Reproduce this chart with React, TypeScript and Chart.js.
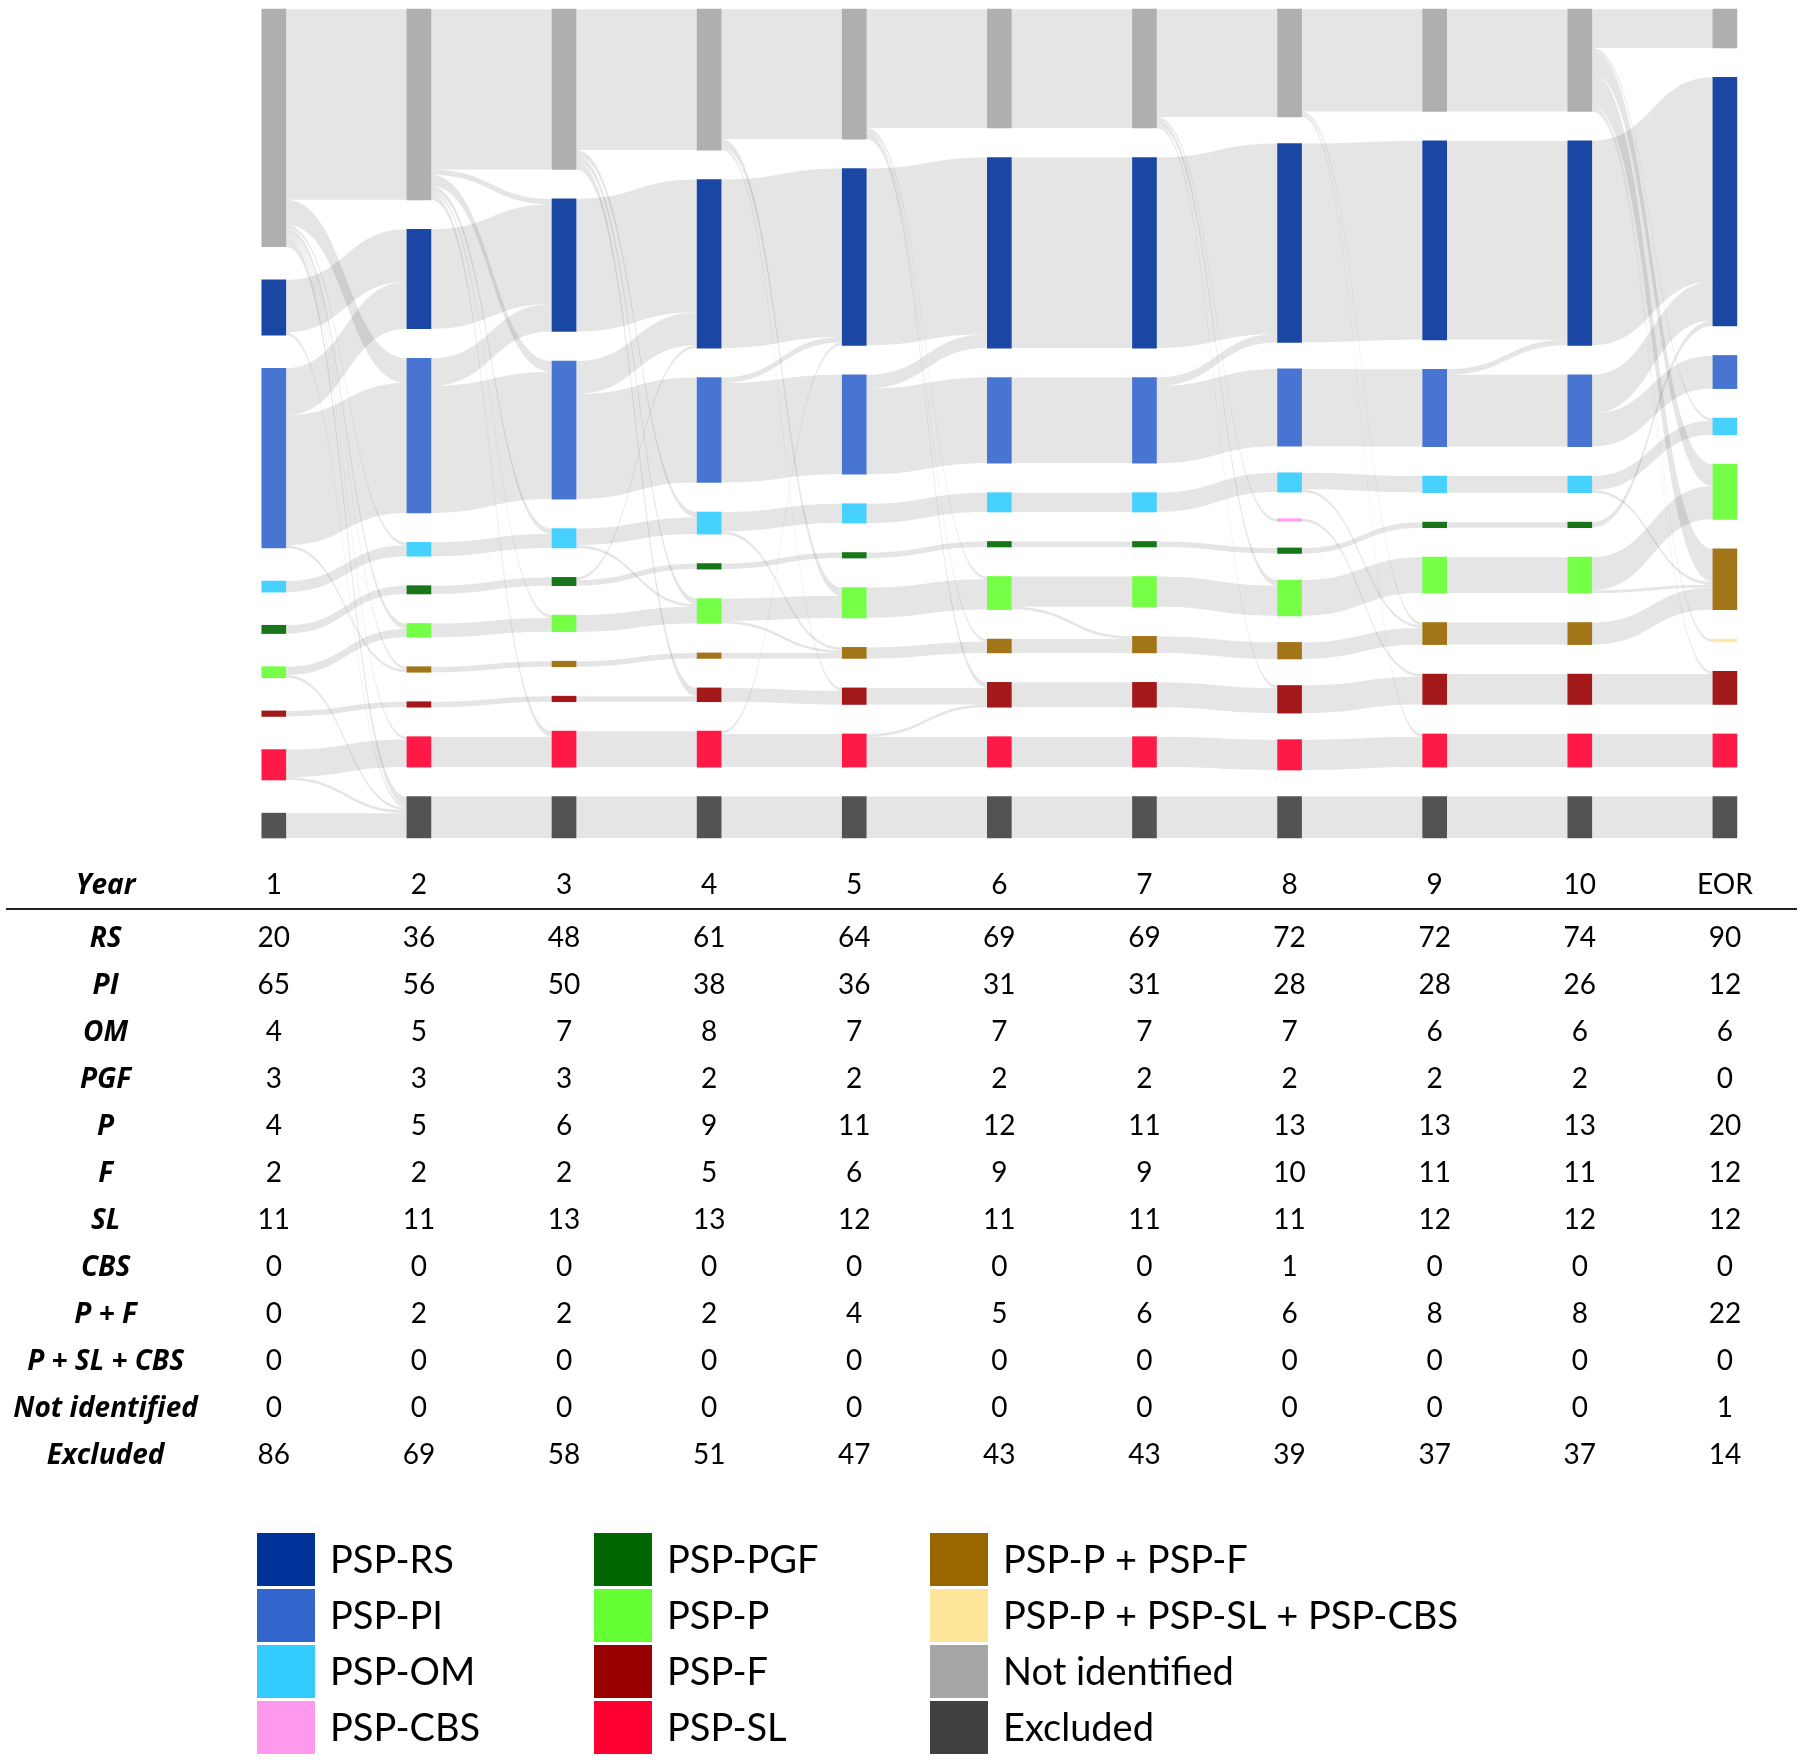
import React, { useEffect, useRef } from "react";
import { Chart, registerables } from "chart.js";

Chart.register(...registerables);

// ---------- DATA ----------
const yearLabels = ["1", "2", "3", "4", "5", "6", "7", "8", "9", "10", "EOR"];

const rowRS = [20, 36, 48, 61, 64, 69, 69, 72, 72, 74, 90];
const rowPI = [65, 56, 50, 38, 36, 31, 31, 28, 28, 26, 12];
const rowOM = [4, 5, 7, 8, 7, 7, 7, 7, 6, 6, 6];
const rowPGF = [3, 3, 3, 2, 2, 2, 2, 2, 2, 2, 0];
const rowP = [4, 5, 6, 9, 11, 12, 11, 13, 13, 13, 20];
const rowF = [2, 2, 2, 5, 6, 9, 9, 10, 11, 11, 12];
const rowSL = [11, 11, 13, 13, 12, 11, 11, 11, 12, 12, 12];
const rowCBS = [0, 0, 0, 0, 0, 0, 0, 1, 0, 0, 0];
const rowPF = [0, 2, 2, 2, 4, 5, 6, 6, 8, 8, 22];
const rowPSLCBS = [0, 0, 0, 0, 0, 0, 0, 0, 0, 0, 0];
const rowNotIdentified = [0, 0, 0, 0, 0, 0, 0, 0, 0, 0, 1];
const rowExcluded = [86, 69, 58, 51, 47, 43, 43, 39, 37, 37, 14];

const tableRowLabels = ["RS", "PI", "OM", "PGF", "P", "F", "SL", "CBS", "P + F", "P + SL + CBS", "Not identified", "Excluded"];
const tableRowValues = [rowRS, rowPI, rowOM, rowPGF, rowP, rowF, rowSL, rowCBS, rowPF, rowPSLCBS, rowNotIdentified, rowExcluded];

// Sankey node states, top to bottom
const stateKeys = ["G", "RS", "PI", "OM", "CBS", "PGF", "P", "PF", "PSC", "F", "SL", "D"];

type Flow = [string, string, number];

const flows1to2: Flow[] = [
  ["G", "G", 69], ["G", "PI", 9], ["G", "OM", 1], ["G", "P", 2], ["G", "PF", 1], ["G", "SL", 1], ["G", "D", 3],
  ["RS", "RS", 19], ["RS", "D", 1],
  ["PI", "RS", 17], ["PI", "PI", 47], ["PI", "PF", 1],
  ["OM", "OM", 4], ["PGF", "PGF", 3], ["P", "P", 3], ["P", "D", 1],
  ["F", "F", 2], ["SL", "SL", 10], ["SL", "D", 1], ["D", "D", 9],
];
const flows2to3: Flow[] = [
  ["G", "G", 58], ["G", "RS", 2], ["G", "PI", 4], ["G", "OM", 2], ["G", "P", 1], ["G", "SL", 2],
  ["RS", "RS", 36], ["PI", "RS", 10], ["PI", "PI", 46],
  ["OM", "OM", 5], ["PGF", "PGF", 3], ["P", "P", 5], ["PF", "PF", 2], ["F", "F", 2], ["SL", "SL", 11], ["D", "D", 15],
];
const flows3to4: Flow[] = [
  ["G", "G", 51], ["G", "OM", 2], ["G", "P", 2], ["G", "F", 3],
  ["RS", "RS", 48], ["PI", "RS", 12], ["PI", "PI", 38],
  ["OM", "OM", 6], ["OM", "P", 1], ["PGF", "RS", 1], ["PGF", "PGF", 2],
  ["P", "P", 6], ["PF", "PF", 2], ["F", "F", 2], ["SL", "SL", 13], ["D", "D", 15],
];
const flows4to5: Flow[] = [
  ["G", "G", 47], ["G", "P", 3], ["G", "F", 1],
  ["RS", "RS", 61], ["PI", "RS", 2], ["PI", "PI", 36],
  ["OM", "OM", 7], ["OM", "PF", 1], ["PGF", "PGF", 2],
  ["P", "P", 8], ["P", "PF", 1], ["PF", "PF", 2], ["F", "F", 5],
  ["SL", "SL", 12], ["SL", "RS", 1], ["D", "D", 15],
];
const flows5to6: Flow[] = [
  ["G", "G", 43], ["G", "P", 1], ["G", "PF", 1], ["G", "F", 2],
  ["RS", "RS", 64], ["PI", "RS", 5], ["PI", "PI", 31],
  ["OM", "OM", 7], ["PGF", "PGF", 2], ["P", "P", 11], ["PF", "PF", 4], ["F", "F", 6],
  ["SL", "SL", 11], ["SL", "F", 1], ["D", "D", 15],
];
const flows6to7: Flow[] = [
  ["G", "G", 43], ["RS", "RS", 69], ["PI", "PI", 31], ["OM", "OM", 7], ["PGF", "PGF", 2],
  ["P", "P", 11], ["P", "PF", 1], ["PF", "PF", 5], ["F", "F", 9], ["SL", "SL", 11], ["D", "D", 15],
];
const flows7to8: Flow[] = [
  ["G", "G", 39], ["G", "CBS", 1], ["G", "P", 2], ["G", "F", 1],
  ["RS", "RS", 69], ["PI", "RS", 3], ["PI", "PI", 28], ["OM", "OM", 7], ["PGF", "PGF", 2],
  ["P", "P", 11], ["PF", "PF", 6], ["F", "F", 9], ["SL", "SL", 11], ["D", "D", 15],
];
const flows8to9: Flow[] = [
  ["G", "G", 37], ["G", "PF", 1], ["G", "SL", 1],
  ["RS", "RS", 72], ["PI", "PI", 28], ["OM", "OM", 6], ["OM", "PF", 1], ["CBS", "F", 1],
  ["PGF", "PGF", 2], ["P", "P", 13], ["PF", "PF", 6], ["F", "F", 10], ["SL", "SL", 11], ["D", "D", 15],
];
const flows9to10: Flow[] = [
  ["G", "G", 37], ["RS", "RS", 72], ["PI", "RS", 2], ["PI", "PI", 26], ["OM", "OM", 6], ["PGF", "PGF", 2],
  ["P", "P", 13], ["PF", "PF", 8], ["F", "F", 11], ["SL", "SL", 12], ["D", "D", 15],
];
const flows10toEOR: Flow[] = [
  ["G", "G", 14], ["G", "OM", 1], ["G", "P", 8], ["G", "PF", 12], ["G", "PSC", 1], ["G", "F", 1],
  ["RS", "RS", 74], ["PI", "RS", 14], ["PI", "PI", 12],
  ["OM", "OM", 5], ["OM", "PF", 1], ["PGF", "RS", 2],
  ["P", "P", 12], ["P", "PF", 1], ["PF", "PF", 8], ["F", "F", 11], ["SL", "SL", 12], ["D", "D", 15],
];
const transitions = [flows1to2, flows2to3, flows3to4, flows4to5, flows5to6, flows6to7, flows7to8, flows8to9, flows9to10, flows10toEOR];

const legendLabels = [
  "PSP-RS", "PSP-PI", "PSP-OM", "PSP-CBS",
  "PSP-PGF", "PSP-P", "PSP-F", "PSP-SL",
  "PSP-P + PSP-F", "PSP-P + PSP-SL + PSP-CBS", "Not identified", "Excluded",
];
const legendKeys = ["RS", "PI", "OM", "CBS", "PGF", "P", "F", "SL", "PF", "PSC", "G", "D"];

// ---------- STYLE ----------
const stateColors: Record<string, string> = {
  G: "#a6a6a6", RS: "#003399", PI: "#3366cc", OM: "#33ccff", CBS: "#ff99ee", PGF: "#006600",
  P: "#66ff33", PF: "#996600", PSC: "#ffe599", F: "#990000", SL: "#ff0033", D: "#404040",
};
const FONT = "Lato, 'Open Sans', 'DejaVu Sans', sans-serif";
const LABEL_FONT = "'Open Sans', Lato, sans-serif";
const Y_TOTAL = 300; // layout units of the column height (nodes + gaps)
const BAR_W = 24;
const W = 1800;
const H = 1762;

// ---------- LAYOUT ----------
type NodeBox = { y0: number; y1: number };
function computeNodes() {
  const n = yearLabels.length;
  const cols: Record<string, NodeBox>[] = [];
  for (let c = 0; c < n; c++) {
    const vals: Record<string, number> = {};
    const outV: Record<string, number> = {};
    const inV: Record<string, number> = {};
    if (c < transitions.length) transitions[c].forEach(([f, , v]) => (outV[f] = (outV[f] || 0) + v));
    if (c > 0) transitions[c - 1].forEach(([, t, v]) => (inV[t] = (inV[t] || 0) + v));
    stateKeys.forEach((k) => (vals[k] = Math.max(outV[k] || 0, inV[k] || 0)));
    const present = stateKeys.filter((k) => vals[k] > 0);
    const total = present.reduce((s, k) => s + vals[k], 0);
    const gap = present.length > 1 ? (Y_TOTAL - total) / (present.length - 1) : 0;
    let y = 0;
    const boxes: Record<string, NodeBox> = {};
    present.forEach((k) => {
      boxes[k] = { y0: y, y1: y + vals[k] };
      y += vals[k] + gap;
    });
    cols.push(boxes);
  }
  return cols;
}

export default function App() {
  const ref = useRef<HTMLCanvasElement | null>(null);

  useEffect(() => {
    const canvas = ref.current;
    if (!canvas) return;
    const nodes = computeNodes();

    const datasets = stateKeys.map((k) => ({
      label: k,
      data: yearLabels.map((_, c) => (nodes[c][k] ? [nodes[c][k].y0, nodes[c][k].y1] : null)) as any,
      backgroundColor: stateColors[k] + "e6",
      borderWidth: 0,
      barThickness: BAR_W,
      grouped: false,
      clip: false as any,
    }));

    type Link = { c: number; f: string; t: string; v: number; sy: number; ty: number };
    const links: Link[] = [];
    transitions.forEach((fl, c) => {
      const ls: Link[] = fl.map(([f, t, v]) => ({ c, f, t, v, sy: 0, ty: 0 }));
      const center = (col: number, k: string) => (nodes[col][k].y0 + nodes[col][k].y1) / 2;
      stateKeys.forEach((s) => {
        if (nodes[c][s]) {
          let off = nodes[c][s].y0;
          ls.filter((l) => l.f === s)
            .sort((a, b) => center(c + 1, a.t) - center(c + 1, b.t))
            .forEach((l) => { l.sy = off; off += l.v; });
        }
        if (nodes[c + 1][s]) {
          let off = nodes[c + 1][s].y0;
          ls.filter((l) => l.t === s)
            .sort((a, b) => center(c, a.f) - center(c, b.f))
            .forEach((l) => { l.ty = off; off += l.v; });
        }
      });
      links.push(...ls);
    });

    const flowPlugin = {
      id: "flows",
      beforeDatasetsDraw(chart: any) {
        const { ctx } = chart;
        const xs = chart.scales.x;
        const ys = chart.scales.y;
        ctx.save();
        ctx.fillStyle = "rgba(0,0,0,0.1)";
        links.forEach((l) => {
          const x0 = xs.getPixelForValue(l.c) + BAR_W / 2;
          const x1 = xs.getPixelForValue(l.c + 1) - BAR_W / 2;
          const xm = (x0 + x1) / 2;
          const s0 = ys.getPixelForValue(l.sy);
          const s1 = ys.getPixelForValue(l.sy + l.v);
          const t0 = ys.getPixelForValue(l.ty);
          const t1 = ys.getPixelForValue(l.ty + l.v);
          ctx.beginPath();
          ctx.moveTo(x0, s0);
          ctx.bezierCurveTo(xm, s0, xm, t0, x1, t0);
          ctx.lineTo(x1, t1);
          ctx.bezierCurveTo(xm, t1, xm, s1, x0, s1);
          ctx.closePath();
          ctx.fill();
        });
        ctx.restore();
      },
    };

    const tablePlugin = {
      id: "tableLegend",
      afterDraw(chart: any) {
        const { ctx } = chart;
        const xs = chart.scales.x;
        ctx.save();
        ctx.fillStyle = "#000";
        ctx.textAlign = "center";
        ctx.textBaseline = "alphabetic";
        const labelX = 105.6;
        const fs = 28;
        const base = (y: number) => y + fs * 0.36;
        const headerY = 884;
        ctx.font = `italic bold ${fs}px ${LABEL_FONT}`;
        ctx.fillText("Year", labelX, base(headerY));
        ctx.font = `${fs}px ${FONT}`;
        yearLabels.forEach((lab, c) => ctx.fillText(lab, xs.getPixelForValue(c), base(headerY)));
        ctx.strokeStyle = "#222";
        ctx.lineWidth = 2;
        ctx.beginPath();
        ctx.moveTo(6, 909);
        ctx.lineTo(1797, 909);
        ctx.stroke();
        const firstRowY = 937;
        const rowStep = 47;
        tableRowLabels.forEach((lab, r) => {
          const y = firstRowY + r * rowStep;
          ctx.font = `italic bold ${fs}px ${LABEL_FONT}`;
          ctx.fillText(lab, labelX, base(y));
          ctx.font = `${fs}px ${FONT}`;
          tableRowValues[r].forEach((v, c) => ctx.fillText(String(v), xs.getPixelForValue(c), base(y)));
        });
        const colX = [257, 594, 930];
        const rowY = [1533, 1589, 1645, 1701];
        const boxW = 58;
        const boxH = 53;
        ctx.textAlign = "left";
        ctx.font = `38px ${FONT}`;
        legendLabels.forEach((lab, i) => {
          const col = Math.floor(i / 4);
          const row = i % 4;
          const bx = colX[col];
          const by = rowY[row];
          ctx.fillStyle = stateColors[legendKeys[i]];
          ctx.fillRect(bx, by, boxW, boxH);
          ctx.fillStyle = "#000";
          ctx.fillText(lab, bx + 73, by + boxH / 2 + 38 * 0.36);
        });
        ctx.restore();
      },
    };

    const chart = new Chart(canvas, {
      type: "bar",
      data: { labels: yearLabels, datasets: datasets as any },
      options: {
        responsive: false,
        animation: false,
        events: [],
        layout: { padding: { left: 273.8, right: W - 1724.9, top: 9.2, bottom: H - 838 } },
        scales: {
          x: { type: "category", offset: false, display: false },
          y: { type: "linear", min: 0, max: Y_TOTAL, reverse: true, display: false },
        },
        plugins: { legend: { display: false }, tooltip: { enabled: false } },
      } as any,
      plugins: [flowPlugin, tablePlugin],
    });
    return () => chart.destroy();
  }, []);

  return (
    <div style={{ position: "absolute", left: 0, top: 0, width: W, height: H, background: "#fff" }}>
      <canvas ref={ref} width={W} height={H} style={{ display: "block", width: W, height: H }} />
    </div>
  );
}
